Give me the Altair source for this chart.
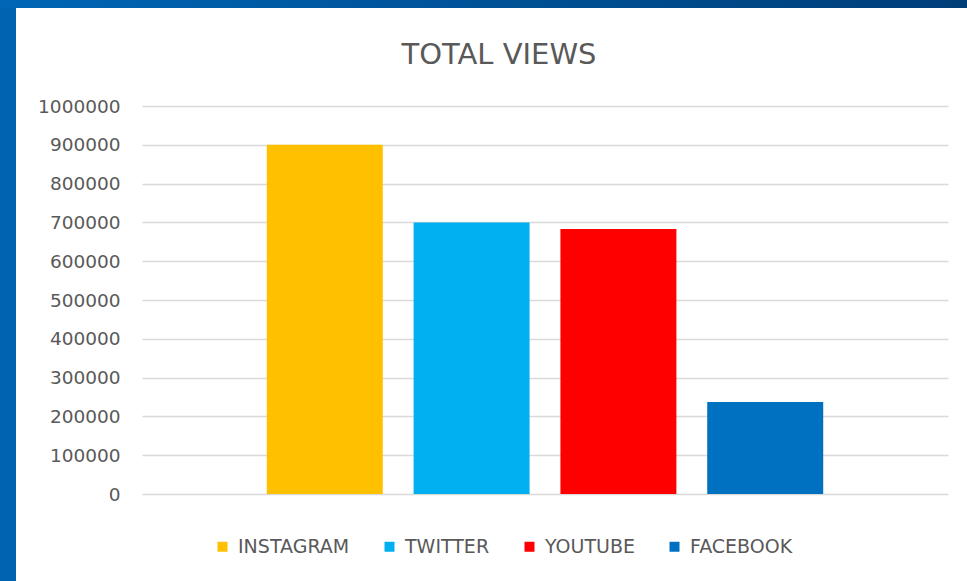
import altair as alt
import pandas as pd

platforms = ["INSTAGRAM", "TWITTER", "YOUTUBE", "FACEBOOK"]
views = [900000, 700000, 683000, 237000]
colors = ["#FFC000", "#00B0F0", "#FF0000", "#0070C0"]
y_ticks = [0, 100000, 200000, 300000, 400000, 500000, 600000, 700000, 800000, 900000, 1000000]
title_text = "TOTAL VIEWS"

df = pd.DataFrame({"platform": platforms, "views": views})

W, H = 806, 388
FONT = "DejaVu Sans"
one = alt.Data(values=[{"a": 1}])

# blue frame (decoration)
leftbar = alt.Chart(one).mark_rect(color="#0063B1").encode(
    x=alt.value(-142), x2=alt.value(-126), y=alt.value(-106), y2=alt.value(H + 87)
)
topbar = alt.Chart(one).mark_rect(
    color={"gradient": "linear", "x1": 0, "x2": 1, "y1": 0, "y2": 0,
           "stops": [{"offset": 0, "color": "#0066B6"}, {"offset": 1, "color": "#003E78"}]}
).encode(
    x=alt.value(-142), x2=alt.value(W + 19), y=alt.value(-106), y2=alt.value(-98)
)
title = alt.Chart(one).mark_text(
    font=FONT, fontSize=29, color="#595959", align="center", baseline="alphabetic"
).encode(x=alt.value(357), y=alt.value(-42), text=alt.value(title_text))

bars = alt.Chart(df).mark_bar().encode(
    x=alt.X("platform:N", sort=platforms, axis=None,
            scale=alt.Scale(paddingInner=0.21, paddingOuter=0.85)),
    y=alt.Y("views:Q", scale=alt.Scale(domain=[0, 1000000], nice=False),
            axis=alt.Axis(values=y_ticks, format="d", title=None, domain=False, ticks=False,
                          grid=True, gridColor="#D9D9D9", gridWidth=1.3,
                          labelColor="#595959", labelFont=FONT, labelFontSize=18.5,
                          labelPadding=22)),
    color=alt.Color("platform:N", sort=platforms,
                    scale=alt.Scale(domain=platforms, range=colors),
                    legend=alt.Legend(title=None, orient="none", direction="horizontal",
                                      legendX=71, legendY=431, symbolType="square",
                                      symbolSize=100, symbolStrokeWidth=0,
                                      labelFont=FONT, labelFontSize=19, labelColor="#595959",
                                      labelOffset=6, columnPadding=30, columns=4)),
)

chart = alt.layer(leftbar, topbar, title, bars).properties(
    width=W, height=H,
    autosize=alt.AutoSizeParams(type="none"),
    padding={"left": 142, "top": 106, "right": 19, "bottom": 87},
    background="white",
).configure_view(stroke=None)

chart.save("out.html", embed_options={"renderer": "svg", "actions": False})
